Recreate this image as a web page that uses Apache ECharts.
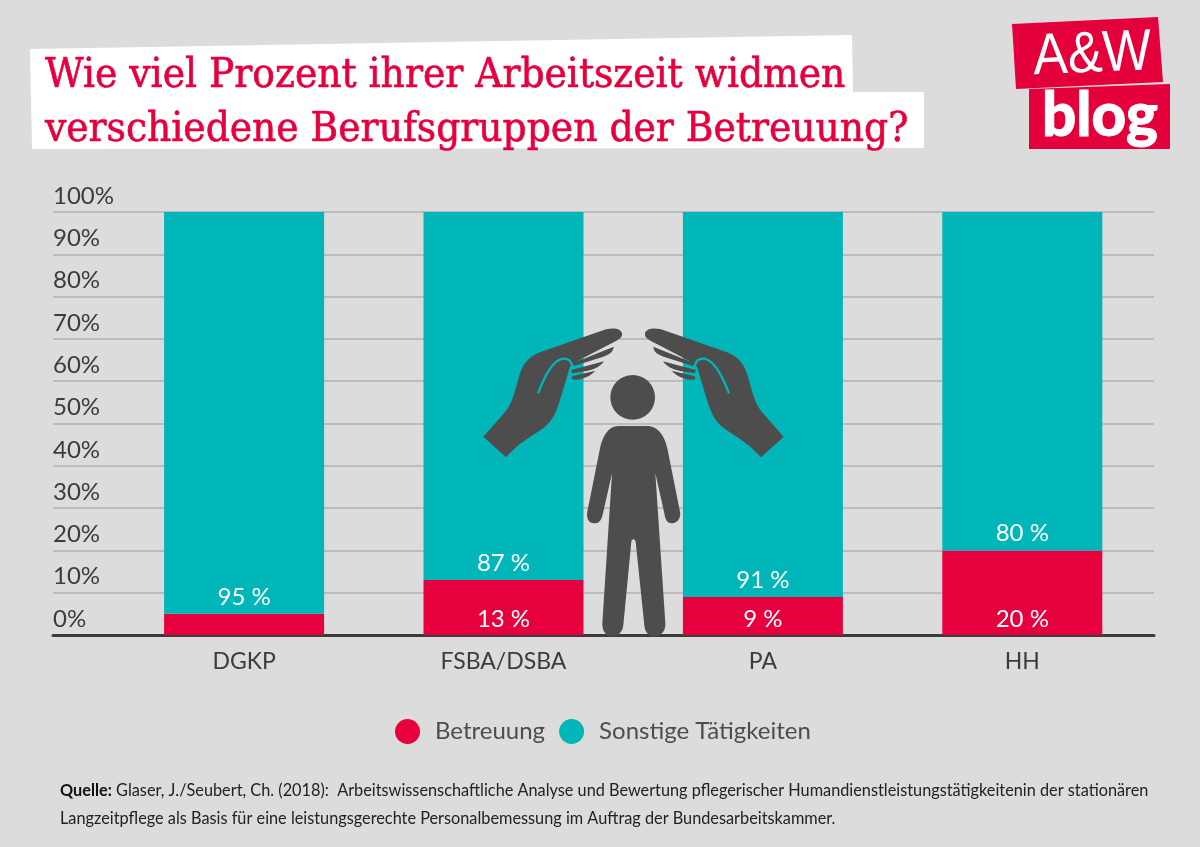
<!DOCTYPE html>
<html>
<head>
<meta charset="utf-8">
<title>Betreuung</title>
<script src="https://cdn.jsdelivr.net/npm/echarts@6/dist/echarts.min.js"></script>
<style>
html, body { margin: 0; padding: 0; background: #dcdcdc; }
#main { width: 1200px; height: 847px; }
</style>
</head>
<body>
<div id="main"></div>
<script>
var categories = ['DGKP', 'FSBA/DSBA', 'PA', 'HH'];
var betreuung = [5, 13, 9, 20];
var sonstige = [95, 87, 91, 80];
var yTicks = [0, 10, 20, 30, 40, 50, 60, 70, 80, 90, 100];

var RED = '#e6003d', TEAL = '#00b6b8', DARK = '#4d4d4d', TXT = '#3c3c3c';
var FONT = 'Lato';

// pictogram paths, coordinates of a 3x crop, scaled down below
var bodyPath = 'M445 348 L530 348 C565 348 585 380 592 415 L630 605 C635 630 615 640 605 640 C590 640 585 625 583 610 L556 490 L586 940 C588 965 570 980 553 980 C535 980 524 965 523 945 L497 695 C495 685 485 685 484 695 L460 945 C458 965 445 980 427 980 C410 980 396 965 397 940 L426 490 L399 610 C396 625 390 640 375 640 C360 640 348 630 352 605 L390 415 C397 380 415 348 445 348 Z';
var handPath = 'M40 380 L100 312 C128 282 132 250 146 205 C156 165 172 142 210 127 L395 62 C420 53 450 52 456 70 C459 85 440 92 425 100 L318 155 C312 160 306 165 300 170 L270 270 C255 320 240 340 215 358 C175 385 140 405 108 442 Z ' +
    'M431 110 C430 125 420 132 400 140 L312 168 L308 160 Z ' +
    'M402 154 C390 170 375 178 350 183 L306 190 L304 180 Z ' +
    'M376 182 C365 195 345 205 320 209 C305 211 300 203 310 198 Z';
var creasePath = 'M204 250 C225 195 250 150 278 146 C295 145 304 155 307 168';

echarts.graphic.registerShape('personBody', echarts.graphic.extendPath(bodyPath, {}));
echarts.graphic.registerShape('careHand', echarts.graphic.extendPath(handPath, {}));
echarts.graphic.registerShape('handCrease', echarts.graphic.extendPath(creasePath, {}));

function hand(mirror) {
    var s = 1 / 3;
    return {
        type: 'group',
        x: mirror ? 470 + 981 / 3 : 470,
        y: 310,
        scaleX: mirror ? -s : s,
        scaleY: s,
        children: [
            { type: 'careHand', z: 10, style: { fill: DARK } },
            { type: 'handCrease', z: 11, style: { fill: 'none', stroke: TEAL, lineWidth: 7 } }
        ]
    };
}

var chart = echarts.init(document.getElementById('main'));
chart.setOption({
    backgroundColor: '#dcdcdc',
    animation: false,
    title: [
        {
            text: 'Wie viel Prozent ihrer Arbeitszeit widmen\nverschiedene Berufsgruppen der Betreuung?',
            left: 40, top: 44, z: 6,
            textStyle: { fontFamily: 'DejaVu Serif Condensed, DejaVu Serif', fontWeight: 'normal', fontSize: 41.9, lineHeight: 54, color: RED, textBorderColor: RED, textBorderWidth: 0.6 }
        },
        {
            text: '{b|Quelle:} Glaser, J./Seubert, Ch. (2018):  Arbeitswissenschaftliche Analyse und Bewertung pflegerischer Humandienstleistungstätigkeitenin der stationären\nLangzeitpflege als Basis für eine leistungsgerechte Personalbemessung im Auftrag der Bundesarbeitskammer.',
            left: 55, top: 772,
            textStyle: {
                fontFamily: FONT, fontWeight: 'normal', fontSize: 16.3, lineHeight: 28, color: '#222',
                rich: { b: { fontFamily: FONT, fontWeight: 'bold', fontSize: 16.3, lineHeight: 28, color: '#111' } }
            }
        }
    ],
    legend: {
        data: ['Betreuung', 'Sonstige Tätigkeiten'],
        left: 390, top: 714,
        icon: 'circle', itemWidth: 25, itemHeight: 25, itemGap: 14, selectedMode: false,
        textStyle: { fontFamily: FONT, fontSize: 24, color: DARK, padding: [0, 0, 0, 10] }
    },
    grid: [
        { left: 53, right: 46, top: 212, bottom: 212 },
        { left: 114.4, right: 48, top: 212, bottom: 212 }
    ],
    xAxis: [
        {
            type: 'value', gridIndex: 0, min: 0, max: 1,
            axisLine: { show: true, lineStyle: { color: '#3c3c3c', width: 3 } },
            axisTick: { show: false }, axisLabel: { show: false }, splitLine: { show: false }
        },
        {
            type: 'category', gridIndex: 1, data: categories,
            axisLine: { show: false }, axisTick: { show: false },
            axisLabel: { fontFamily: FONT, fontSize: 23, color: TXT, margin: 15 }
        }
    ],
    yAxis: [
        {
            type: 'value', gridIndex: 0, min: yTicks[0], max: yTicks[yTicks.length - 1], interval: 10,
            axisLine: { show: false }, axisTick: { show: false },
            axisLabel: {
                inside: true, margin: 0, verticalAlign: 'bottom', align: 'left', lineHeight: 32,
                fontFamily: FONT, fontSize: 24, color: TXT,
                formatter: function (v) { return v + '%'; }
            },
            splitLine: { show: true, lineStyle: { color: '#bcbcbc', width: 2 } }
        },
        {
            type: 'value', gridIndex: 1, min: 0, max: 100, show: false
        }
    ],
    series: [
        {
            name: 'Betreuung', type: 'bar', stack: 'a', xAxisIndex: 1, yAxisIndex: 1,
            data: betreuung, barWidth: 160, itemStyle: { color: RED },
            label: {
                show: true, position: 'insideBottom', distance: 4,
                fontFamily: FONT, fontSize: 24, color: '#fff',
                formatter: function (p) { return p.value < 9 ? '' : p.value + ' %'; }
            }
        },
        {
            name: 'Sonstige Tätigkeiten', type: 'bar', stack: 'a', xAxisIndex: 1, yAxisIndex: 1,
            data: sonstige, barWidth: 160, itemStyle: { color: TEAL },
            label: {
                show: true, position: 'insideBottom', distance: 5,
                fontFamily: FONT, fontSize: 24, color: '#fff',
                formatter: function (p) { return p.value + ' %'; }
            }
        }
    ],
    graphic: [
        // white title background, sits behind the title text
        { type: 'polygon', z: 5, shape: { points: [[30, 49], [852, 35], [853, 92], [924, 92], [924, 148], [32, 149]] }, style: { fill: '#fff' } },
        // logo
        { type: 'polygon', z: 5, shape: { points: [[1012, 24], [1158, 17], [1163, 82], [1016, 89]] }, style: { fill: '#e4003a' } },
        { type: 'polygon', z: 5, shape: { points: [[1029, 89], [1170, 84], [1170, 149], [1029, 149]] }, style: { fill: '#e4003a' } },
        { type: 'text', z: 6, x: 1032, y: 29, scaleY: 1.12, rotation: 0.04, style: { text: 'A&W', fontFamily: 'Liberation Sans Narrow, Liberation Sans', fontSize: 52, fill: '#fff' } },
        { type: 'text', z: 6, x: 1042, y: 87, style: { text: 'blog', fontFamily: 'Lato', fontWeight: 900, fontSize: 60, fill: '#fff', stroke: '#fff', lineWidth: 1 } },
        // person and hands
        {
            type: 'group', x: 470, y: 310, scaleX: 1 / 3, scaleY: 1 / 3,
            children: [
                { type: 'circle', z: 10, shape: { cx: 488, cy: 262, r: 67 }, style: { fill: DARK } },
                { type: 'personBody', z: 10, style: { fill: DARK } }
            ]
        },
        hand(false),
        hand(true)
    ]
});
</script>
</body>
</html>
